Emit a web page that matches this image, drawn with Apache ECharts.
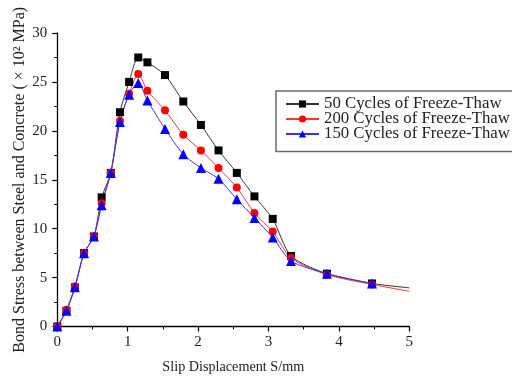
<!DOCTYPE html>
<html><head><meta charset="utf-8">
<script src="https://cdn.jsdelivr.net/npm/echarts@6/dist/echarts.min.js"></script>
<style>html,body{margin:0;padding:0;background:#fff}#c{width:512px;height:376px}</style>
</head><body><div id="c"></div>
<script>
const slipX = [0,0.13,0.25,0.38,0.52,0.63,0.76,0.89,1.02,1.15,1.28,1.53,1.79,2.04,2.29,2.55,2.80,3.06,3.32,3.83,4.47,5.0];
const stress50 = [0,1.6,4.0,7.5,9.2,13.2,15.7,21.9,25.0,27.5,27.0,25.7,23.0,20.6,18.0,15.7,13.3,11.0,7.2,5.4,4.4,3.95];
const stress200 = [0,1.7,4.1,7.5,9.2,12.6,15.7,21.0,23.8,25.8,24.1,22.1,19.6,18.0,16.2,14.2,11.6,9.7,7.0,5.3,4.3,3.6];
const stress150 = [0,1.6,4.0,7.5,9.2,12.4,15.7,20.9,23.7,24.9,23.1,20.2,17.6,16.2,15.1,13.0,11.1,9.1,6.7,5.4,4.4];
const seriesNames = ['50 Cycles of Freeze-Thaw','200 Cycles of Freeze-Thaw','150 Cycles of Freeze-Thaw'];
const xTitle = 'Slip Displacement S/mm';
const yTitle = 'Bond Stress between Steel and Concrete ( \u00d7 10\u00b2 MPa)';

function pairs(ys){
  return ys.map((y,i)=>{
    const p = {value:[slipX[i], y]};
    if (i === slipX.length-1) p.symbol = 'none';
    return p;
  });
}
const font = '"Liberation Serif","Times New Roman",serif';
const chart = echarts.init(document.getElementById('c'), null, {renderer:'canvas'});
const axisCommon = {
  axisLine:{show:true, onZero:false, lineStyle:{color:'#000', width:1.3}},
  axisTick:{show:true, inside:false, length:5, lineStyle:{color:'#000', width:1.2}},
  minorTick:{show:true, splitNumber:2, length:3, lineStyle:{color:'#000', width:1}},
  splitLine:{show:false},
  axisLabel:{color:'#222', fontFamily:font, fontSize:15}
};
chart.setOption({
  animation:false,
  grid:{left:57.3, right:102.7, top:33, bottom:49.5, containLabel:false, outerBoundsMode:'none'},
  xAxis:Object.assign({}, axisCommon, {
    type:'value', min:0, max:5, interval:1,
    name:xTitle, nameLocation:'middle', nameGap:34,
    nameTextStyle:{color:'#222', fontFamily:font, fontSize:14.2},
    axisLabel:Object.assign({}, axisCommon.axisLabel, {margin:8})
  }),
  yAxis:Object.assign({}, axisCommon, {
    type:'value', min:0, max:30, interval:5,
    name:yTitle, nameLocation:'middle', nameGap:30, nameMoveOverlap:false,
    nameTextStyle:{color:'#222', fontFamily:font, fontSize:16},
    axisLabel:Object.assign({}, axisCommon.axisLabel, {margin:10})
  }),
  legend:{
    show:true, left:276, top:91, orient:'vertical',
    itemWidth:33, itemHeight:9, itemGap:-2,
    padding:[4.5,6,9,9],
    borderColor:'#6a6a6a', borderWidth:1.5, backgroundColor:'#fff',
    textStyle:{color:'#222', fontFamily:font, fontSize:16.8, lineHeight:15},
    data:seriesNames
  },
  series:[
    {name:seriesNames[0], type:'line', data:pairs(stress50), smooth:0.25,
     symbol:'rect', symbolSize:8, showAllSymbol:true,
     itemStyle:{color:'#000'}, lineStyle:{color:'#333', width:1}},
    {name:seriesNames[1], type:'line', data:pairs(stress200), smooth:0.25,
     symbol:'circle', symbolSize:8, showAllSymbol:true,
     itemStyle:{color:'#ff0000'}, lineStyle:{color:'#ff3333', width:1}},
    {name:seriesNames[2], type:'line', data:stress150.map((y,i)=>({value:[slipX[i],y]})), smooth:0.25,
     symbol:'triangle', symbolSize:10, showAllSymbol:true,
     itemStyle:{color:'#0000ff'}, lineStyle:{color:'#3333ff', width:1}}
  ]
});
</script></body></html>
